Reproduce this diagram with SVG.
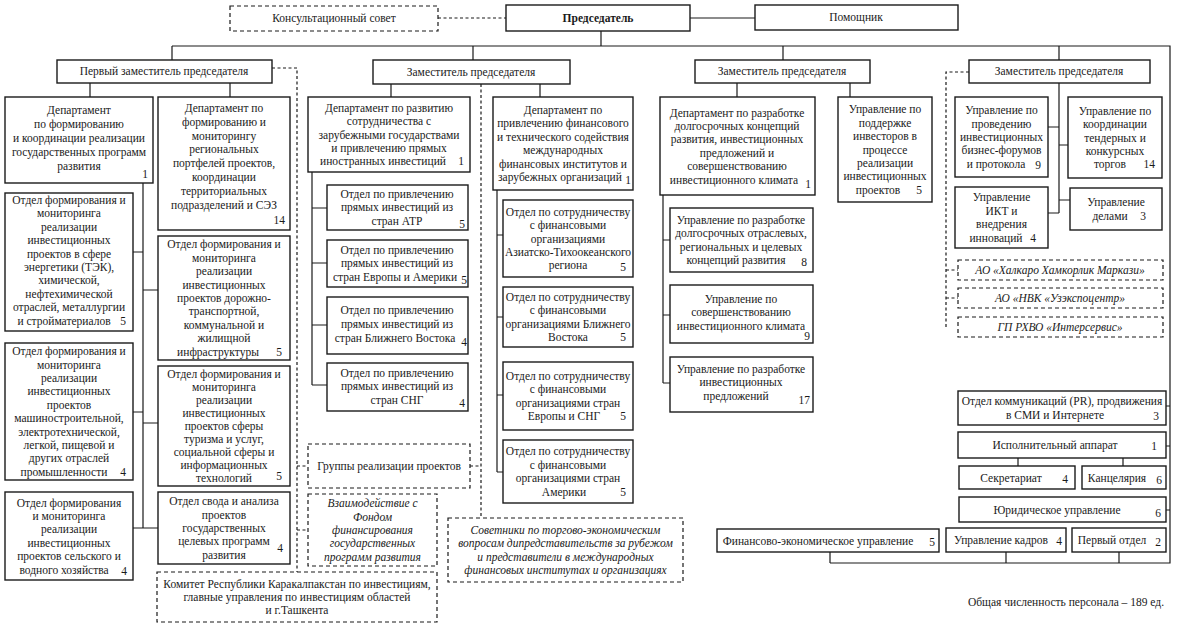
<svg xmlns="http://www.w3.org/2000/svg" width="1179" height="629" viewBox="0 0 1179 629">
<style>
.box{fill:#fff;stroke:#1a1a1a;stroke-width:1.4}
.dbox{fill:#fff;stroke:#1a1a1a;stroke-width:1.2;stroke-dasharray:4 3}
.ln{fill:none;stroke:#1a1a1a;stroke-width:1.2}
.dl{fill:none;stroke:#1a1a1a;stroke-width:1.2;stroke-dasharray:3 2.5}
text{font-family:"Liberation Serif","Times New Roman",serif;font-size:11.5px;fill:#1a1a1a}
.t{text-anchor:middle}
.n{text-anchor:end}
.i{font-style:italic}
.b{font-weight:bold}
</style>
<rect width="1179" height="629" fill="#fff"/>
<g id="connectors">
<path class="ln" d="M690,18H755M601,31V46M172,46H1170V563H830M172,46V60M473,46V60M783,46V60M1059,46V60"/>
<path class="ln" d="M90,83V97M230,83V97M391,84V97M540,84V97M737,83V97M850,83V97M1059,83V213"/>
<path class="ln" d="M143,183V528M133,252H143M143,290H158M133,412H143M143,423H158M133,528H158"/>
<path class="ln" d="M312,172V385M312,208H327M312,263H327M312,325H327M312,385H327"/>
<path class="ln" d="M497,190V472M497,235H503M497,317H503M497,395H503M497,472H503"/>
<path class="ln" d="M663,195V383M663,240H670M663,315H670M663,383H670"/>
<path class="ln" d="M1048,127H1059M1059,145H1068M1059,200H1070M1048,213H1059"/>
<path class="ln" d="M1166,406H1170M1166,446H1170M1166,510H1170M1018,458V466M1123,458V466M830,552V563M1006,552V563M1119,552V563"/>
<path class="dl" d="M438,18H506M272,68H297V572M297,466H308M297,530H308M470,466H481M481,84V518M969,72H946V327M946,270H958M946,298H958"/>
</g>
<g id="konsult"><rect class="dbox" x="230" y="6" width="208" height="25"/><text class="t" x="334" y="22">Консультационный совет</text></g>
<g id="chairman"><rect class="box" x="506" y="5" width="184" height="26"/><text class="t b" x="598" y="22">Председатель</text></g>
<g id="assistant"><rect class="box" x="755" y="5" width="203" height="25"/><text class="t" x="856" y="21">Помощник</text></g>
<g id="dep1"><rect class="box" x="57" y="60" width="215" height="23"/><text class="t" x="164" y="75">Первый заместитель председателя</text></g>
<g id="dep2"><rect class="box" x="373" y="60" width="197" height="24"/><text class="t" x="471" y="76">Заместитель председателя</text></g>
<g id="dep3"><rect class="box" x="695" y="60" width="175" height="23"/><text class="t" x="782" y="75">Заместитель председателя</text></g>
<g id="dep4"><rect class="box" x="969" y="60" width="181" height="23"/><text class="t" x="1059" y="75">Заместитель председателя</text></g>

<g id="boxA"><rect class="box" x="5" y="97" width="148" height="86"/><text class="t" x="79" y="114"><tspan x="79">Департамент</tspan><tspan x="79" dy="14">по формированию</tspan><tspan x="79" dy="14">и координации реализации</tspan><tspan x="79" dy="14">государственных программ</tspan><tspan x="79" dy="14">развития</tspan></text><text class="n" x="148" y="178">1</text></g>
<g id="boxB"><rect class="box" x="158" y="97" width="132" height="133"/><text class="t" x="224" y="112"><tspan x="224">Департамент по</tspan><tspan x="224" dy="13.8">формированию и</tspan><tspan x="224" dy="13.8">мониторингу</tspan><tspan x="224" dy="13.8">региональных</tspan><tspan x="224" dy="13.8">портфелей проектов,</tspan><tspan x="224" dy="13.8">координации</tspan><tspan x="224" dy="13.8">территориальных</tspan><tspan x="224" dy="13.8">подразделений и СЭЗ</tspan></text><text class="n" x="285" y="224">14</text></g>
<g id="boxC"><rect class="box" x="5" y="193" width="128" height="138"/><text class="t" x="69" y="204"><tspan x="69">Отдел формирования и</tspan><tspan x="69" dy="13.4">мониторинга</tspan><tspan x="69" dy="13.4">реализации</tspan><tspan x="69" dy="13.4">инвестиционных</tspan><tspan x="69" dy="13.4">проектов в сфере</tspan><tspan x="69" dy="13.4">энергетики (ТЭК),</tspan><tspan x="69" dy="13.4">химической,</tspan><tspan x="69" dy="13.4">нефтехимической</tspan><tspan x="69" dy="13.4">отраслей, металлургии</tspan><tspan x="64" dy="13.4">и стройматериалов</tspan></text><text class="n" x="126" y="324.6">5</text></g>
<g id="boxD"><rect class="box" x="158" y="236" width="132" height="124"/><text class="t" x="224" y="248.4"><tspan x="224">Отдел формирования и</tspan><tspan x="224" dy="13.4">мониторинга</tspan><tspan x="224" dy="13.4">реализации</tspan><tspan x="224" dy="13.4">инвестиционных</tspan><tspan x="224" dy="13.4">проектов дорожно-</tspan><tspan x="224" dy="13.4">транспортной,</tspan><tspan x="224" dy="13.4">коммунальной и</tspan><tspan x="224" dy="13.4">жилищной</tspan><tspan x="218" dy="13.4">инфраструктуры</tspan></text><text class="n" x="282" y="355.6">5</text></g>
<g id="boxE"><rect class="box" x="5" y="343" width="128" height="137"/><text class="t" x="69" y="355.2"><tspan x="69">Отдел формирования и</tspan><tspan x="69" dy="13.4">мониторинга</tspan><tspan x="69" dy="13.4">реализации</tspan><tspan x="69" dy="13.4">инвестиционных</tspan><tspan x="69" dy="13.4">проектов</tspan><tspan x="69" dy="13.4">машиностроительной,</tspan><tspan x="69" dy="13.4">электротехнической,</tspan><tspan x="69" dy="13.4">легкой, пищевой и</tspan><tspan x="69" dy="13.4">других отраслей</tspan><tspan x="64" dy="13.4">промышленности</tspan></text><text class="n" x="126" y="475.8">4</text></g>
<g id="boxF"><rect class="box" x="158" y="366" width="132" height="120"/><text class="t" x="224" y="378"><tspan x="224">Отдел формирования и</tspan><tspan x="224" dy="13">мониторинга</tspan><tspan x="224" dy="13">реализации</tspan><tspan x="224" dy="13">инвестиционных</tspan><tspan x="224" dy="13">проектов сферы</tspan><tspan x="224" dy="13">туризма и услуг,</tspan><tspan x="224" dy="13">социальной сферы и</tspan><tspan x="224" dy="13">информационных</tspan><tspan x="224" dy="13">технологий</tspan></text><text class="n" x="282" y="480">5</text></g>
<g id="boxG"><rect class="box" x="5" y="492" width="128" height="88"/><text class="t" x="69" y="506.5"><tspan x="69">Отдел формирования</tspan><tspan x="69" dy="13.4">и мониторинга</tspan><tspan x="69" dy="13.4">реализации</tspan><tspan x="69" dy="13.4">инвестиционных</tspan><tspan x="69" dy="13.4">проектов сельского и</tspan><tspan x="64" dy="13.4">водного хозяйства</tspan></text><text class="n" x="127" y="575">4</text></g>
<g id="boxH"><rect class="box" x="158" y="492" width="132" height="72"/><text class="t" x="224" y="505.2"><tspan x="224">Отдел свода и анализа</tspan><tspan x="224" dy="13.4">проектов</tspan><tspan x="224" dy="13.4">государственных</tspan><tspan x="224" dy="13.4">целевых программ</tspan><tspan x="224" dy="13.4">развития</tspan></text><text class="n" x="283" y="552">4</text></g>

<g id="boxI"><rect class="box" x="308" y="97" width="162" height="75"/><text class="t" x="389" y="111.7"><tspan x="389">Департамент по развитию</tspan><tspan x="389" dy="13.4">сотрудничества с</tspan><tspan x="389" dy="13.4">зарубежными государствами</tspan><tspan x="389" dy="13.4">и привлечению прямых</tspan><tspan x="383" dy="13.4">иностранных инвестиций</tspan></text><text class="n" x="464" y="165.3">1</text></g>
<g id="boxJ1"><rect class="box" x="327" y="185" width="141" height="45"/><text class="t" x="397" y="198"><tspan x="397">Отдел по привлечению</tspan><tspan x="397" dy="13.4">прямых инвестиций из</tspan><tspan x="397" dy="13.4">стран АТР</tspan></text><text class="n" x="465" y="228">5</text></g>
<g id="boxJ2"><rect class="box" x="327" y="240" width="141" height="47"/><text class="t" x="397" y="254"><tspan x="397">Отдел по привлечению</tspan><tspan x="397" dy="13.4">прямых инвестиций  из</tspan><tspan x="395" dy="13.4">стран Европы и Америки</tspan></text><text class="n" x="467" y="284">5</text></g>
<g id="boxJ3"><rect class="box" x="327" y="297" width="141" height="57"/><text class="t" x="397" y="314"><tspan x="397">Отдел по привлечению</tspan><tspan x="397" dy="14">прямых инвестиций из</tspan><tspan x="395" dy="14">стран Ближнего Востока</tspan></text><text class="n" x="467" y="346">4</text></g>
<g id="boxJ4"><rect class="box" x="327" y="363" width="141" height="48"/><text class="t" x="397" y="377"><tspan x="397">Отдел по привлечению</tspan><tspan x="397" dy="13.4">прямых инвестиций из</tspan><tspan x="397" dy="13.4">стран СНГ</tspan></text><text class="n" x="465" y="407">4</text></g>

<g id="boxK"><rect class="box" x="493" y="97" width="140" height="93"/><text class="t" x="563" y="114"><tspan x="563">Департамент по</tspan><tspan x="563" dy="13.4">привлечению финансового</tspan><tspan x="563" dy="13.4">и технического содействия</tspan><tspan x="563" dy="13.4">международных</tspan><tspan x="563" dy="13.4">финансовых институтов и</tspan><tspan x="560" dy="13.4">зарубежных организаций</tspan></text><text class="n" x="631" y="184">1</text></g>
<g id="boxL1"><rect class="box" x="503" y="200" width="130" height="77"/><text class="t" x="568" y="215.7"><tspan x="568">Отдел по сотрудничеству</tspan><tspan x="568" dy="13.4">с финансовыми</tspan><tspan x="568" dy="13.4">организациями</tspan><tspan x="568" dy="13.4">Азиатско-Тихоокеанского</tspan><tspan x="568" dy="13.4">региона</tspan></text><text class="n" x="626" y="271">5</text></g>
<g id="boxL2"><rect class="box" x="503" y="287" width="130" height="60"/><text class="t" x="568" y="301"><tspan x="568">Отдел по сотрудничеству</tspan><tspan x="568" dy="13.4">с финансовыми</tspan><tspan x="568" dy="13.4">организациями Ближнего</tspan><tspan x="568" dy="13.4">Востока</tspan></text><text class="n" x="626" y="341">5</text></g>
<g id="boxL3"><rect class="box" x="503" y="362" width="130" height="68"/><text class="t" x="568" y="380"><tspan x="568">Отдел по сотрудничеству</tspan><tspan x="568" dy="13.4">с финансовыми</tspan><tspan x="568" dy="13.4">организациями стран</tspan><tspan x="564" dy="13.4">Европы и СНГ</tspan></text><text class="n" x="626" y="420">5</text></g>
<g id="boxL4"><rect class="box" x="503" y="440" width="130" height="63"/><text class="t" x="568" y="455.4"><tspan x="568">Отдел по сотрудничеству</tspan><tspan x="568" dy="13.4">с финансовыми</tspan><tspan x="568" dy="13.4">организациями стран</tspan><tspan x="564" dy="13.4">Америки</tspan></text><text class="n" x="626" y="495.6">5</text></g>

<g id="boxM"><rect class="box" x="660" y="97" width="155" height="98"/><text class="t" x="737" y="116.5"><tspan x="737">Департамент по разработке</tspan><tspan x="737" dy="13.4">долгосрочных концепций</tspan><tspan x="737" dy="13.4">развития, инвестиционных</tspan><tspan x="737" dy="13.4">предложений и</tspan><tspan x="737" dy="13.4">совершенствованию</tspan><tspan x="734" dy="13.4">инвестиционного климата</tspan></text><text class="n" x="811" y="188">1</text></g>
<g id="boxN1"><rect class="box" x="670" y="208" width="143" height="64"/><text class="t" x="741" y="223.9"><tspan x="741">Управление по разработке</tspan><tspan x="741" dy="13.4">долгосрочных отраслевых,</tspan><tspan x="741" dy="13.4">региональных и целевых</tspan><tspan x="736" dy="13.4">концепций развития</tspan></text><text class="n" x="807" y="266">8</text></g>
<g id="boxN2"><rect class="box" x="670" y="285" width="143" height="58"/><text class="t" x="741" y="303"><tspan x="741">Управление по</tspan><tspan x="741" dy="13.4">совершенствованию</tspan><tspan x="741" dy="13.4">инвестиционного климата</tspan></text><text class="n" x="810" y="340">9</text></g>
<g id="boxN3"><rect class="box" x="670" y="357" width="143" height="55"/><text class="t" x="741" y="373"><tspan x="741">Управление по разработке</tspan><tspan x="741" dy="13.4">инвестиционных</tspan><tspan x="736" dy="13.4">предложений</tspan></text><text class="n" x="810" y="404">17</text></g>
<g id="boxO"><rect class="box" x="838" y="97" width="94" height="105"/><text class="t" x="885" y="113.3"><tspan x="885">Управление по</tspan><tspan x="885" dy="13.4">поддержке</tspan><tspan x="885" dy="13.4">инвесторов в</tspan><tspan x="885" dy="13.4">процессе</tspan><tspan x="885" dy="13.4">реализации</tspan><tspan x="885" dy="13.4">инвестиционных</tspan><tspan x="878" dy="13.4">проектов</tspan></text><text class="n" x="922" y="193.7">5</text></g>

<g id="boxP1"><rect class="box" x="955" y="97" width="93" height="80"/><text class="t" x="1001.5" y="114.2"><tspan x="1001.5">Управление по</tspan><tspan x="1001.5" dy="13.4">проведению</tspan><tspan x="1001.5" dy="13.4">инвестиционных</tspan><tspan x="1001.5" dy="13.4">бизнес-форумов</tspan><tspan x="996" dy="13.4">и протокола</tspan></text><text class="n" x="1041" y="169">9</text></g>
<g id="boxP2"><rect class="box" x="1068" y="97" width="94" height="81"/><text class="t" x="1115" y="114.7"><tspan x="1115">Управление по</tspan><tspan x="1115" dy="13.4">координации</tspan><tspan x="1115" dy="13.4">тендерных и</tspan><tspan x="1115" dy="13.4">конкурсных</tspan><tspan x="1110" dy="13.4">торгов</tspan></text><text class="n" x="1155" y="168.3">14</text></g>
<g id="boxP3"><rect class="box" x="955" y="187" width="93" height="61"/><text class="t" x="1001.5" y="201.4"><tspan x="1001.5">Управление</tspan><tspan x="1001.5" dy="13.4">ИКТ и</tspan><tspan x="1001.5" dy="13.4">внедрения</tspan><tspan x="996" dy="13.4">инноваций</tspan></text><text class="n" x="1036" y="241.6">4</text></g>
<g id="boxP4"><rect class="box" x="1070" y="188" width="92" height="42"/><text class="t" x="1116" y="206.3"><tspan x="1116">Управление</tspan><tspan x="1110" dy="13.4">делами</tspan></text><text class="n" x="1146" y="219.7">3</text></g>
<g id="boxQ1"><rect class="dbox" x="958" y="260" width="205" height="20"/><text class="t i" x="1060" y="274">АО «Халкаро Хамкорлик Маркази»</text></g>
<g id="boxQ2"><rect class="dbox" x="958" y="288" width="205" height="20"/><text class="t i" x="1060" y="302">АО «НВК «Узэкспоцентр»</text></g>
<g id="boxQ3"><rect class="dbox" x="958" y="317" width="205" height="20"/><text class="t i" x="1060" y="331">ГП РХВО «Интерсервис»</text></g>

<g id="boxR1"><rect class="box" x="958" y="391" width="208" height="34"/><text class="t" x="1062" y="405.3"><tspan x="1062">Отдел коммуникаций (PR), продвижения</tspan><tspan x="1055" dy="13.4">в СМИ и Интернете</tspan></text><text class="n" x="1159" y="420">3</text></g>
<g id="boxR2"><rect class="box" x="958" y="432" width="208" height="26"/><text class="t" x="1055" y="449">Исполнительный аппарат</text><text class="n" x="1157" y="450">1</text></g>
<g id="boxR3"><rect class="box" x="959" y="466" width="116" height="23"/><text class="t" x="1011" y="481.5">Секретариат</text><text class="n" x="1068" y="483">4</text></g>
<g id="boxR4"><rect class="box" x="1082" y="466" width="84" height="23"/><text class="t" x="1117" y="481.5">Канцелярия</text><text class="n" x="1162" y="484">6</text></g>
<g id="boxR5"><rect class="box" x="959" y="497" width="207" height="25"/><text class="t" x="1057" y="513.5">Юридическое управление</text><text class="n" x="1161" y="517">6</text></g>
<g id="boxR6"><rect class="box" x="717" y="529" width="222" height="23"/><text class="t" x="818" y="544.5">Финансово-экономическое управление</text><text class="n" x="935" y="546">5</text></g>
<g id="boxR7"><rect class="box" x="946" y="528" width="120" height="24"/><text class="t" x="1001" y="544">Управление кадров</text><text class="n" x="1062" y="545">4</text></g>
<g id="boxR8"><rect class="box" x="1072" y="528" width="94" height="24"/><text class="t" x="1112" y="544">Первый отдел</text><text class="n" x="1161" y="546">2</text></g>

<g id="groups"><rect class="dbox" x="308" y="444" width="162" height="44"/><text class="t" x="389" y="470">Группы реализации проектов</text></g>
<g id="fund"><rect class="dbox" x="308" y="494" width="129" height="72"/><text class="t i" x="372.5" y="507.2"><tspan x="372.5">Взаимодействие с</tspan><tspan x="372.5" dy="13.4">Фондом</tspan><tspan x="372.5" dy="13.4">финансирования</tspan><tspan x="372.5" dy="13.4">государственных</tspan><tspan x="372.5" dy="13.4">программ развития</tspan></text></g>
<g id="committee"><rect class="dbox" x="157" y="572" width="280" height="50"/><text class="t" x="297" y="587.6"><tspan x="297">Комитет Республики Каракалпакстан по инвестициям,</tspan><tspan x="297" dy="13.4">главные управления по инвестициям областей</tspan><tspan x="297" dy="13.4">и г.Ташкента</tspan></text></g>
<g id="advisers"><rect class="dbox" x="448" y="518" width="235" height="64"/><text class="t i" x="565.5" y="533.9"><tspan x="565.5">Советники по торгово-экономическим</tspan><tspan x="565.5" dy="13.4">вопросам дипредставительств за рубежом</tspan><tspan x="565.5" dy="13.4">и представители в международных</tspan><tspan x="565.5" dy="13.4">финансовых институтах и организациях</tspan></text></g>
<text x="1066" y="606" class="t">Общая численность персонала – 189 ед.</text>
</svg>
